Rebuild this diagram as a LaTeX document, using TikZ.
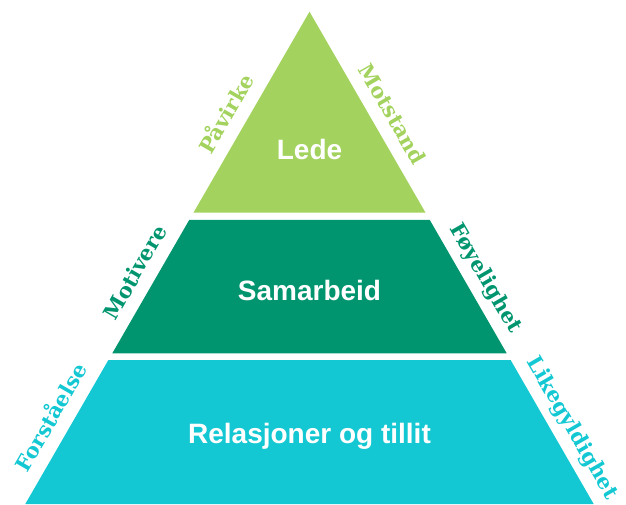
\documentclass[tikz,border=0pt]{standalone}
\usepackage{fontspec}
\setmainfont{Liberation Sans}
\newfontfamily\slabfont{DejaVu Serif Bold}
\usetikzlibrary{positioning, calc}
\definecolor{ledegreen}{RGB}{163,211,94}
\definecolor{samgreen}{RGB}{0,149,110}
\definecolor{relcyan}{RGB}{20,200,211}
\tikzstyle{band}=[draw=none]
\tikzstyle{title}=[text=white, anchor=base, font=\fontsize{28}{30}\selectfont\bfseries]
\tikzstyle{side}=[sloped, above=13pt, inner sep=0pt, text depth=0pt, font=\slabfont\fontsize{21}{23}\selectfont]

\begin{document}
\begin{tikzpicture}[x=1pt,y=1pt]
    \useasboundingbox (0,0) rectangle (626,504);
    % corners of the three layers
    \coordinate (apex) at (309.5,492.3);
    \coordinate (lbl) at (193.45,291.3);
    \coordinate (lbr) at (425.55,291.3);
    \coordinate (stl) at (189.2,284);
    \coordinate (str) at (429.8,284);
    \coordinate (sbl) at (112.3,150.7);
    \coordinate (sbr) at (506.7,150.7);
    \coordinate (rtl) at (108.4,144);
    \coordinate (rtr) at (510.6,144);
    \coordinate (rbl) at (25.3,0);
    \coordinate (rbr) at (593.7,0);

    \fill [band, ledegreen] (lbl) -- (apex) -- (lbr) -- cycle;
    \fill [band, samgreen] (sbl) -- (stl) -- (str) -- (sbr) -- cycle;
    \fill [band, relcyan] (rbl) -- (rtl) -- (rtr) -- (rbr) -- cycle;

    \node [title] (lede) at (309.5,344) {Lede};
    \node [title] (samarbeid) at (309.5,204) {Samarbeid};
    \node [title] (relasjoner) at (309.5,60.7) {Relasjoner og tillit};

    % words along the sides
    \path (lbl) -- node [side, pos=0.44, text=ledegreen] (pavirke) {Påvirke} (apex);
    \path (apex) -- node [side, pos=0.56, text=ledegreen] (motstand) {Motstand} (lbr);
    \path (sbl) -- node [side, pos=0.53, text=samgreen] (motivere) {Motivere} (stl);
    \path (str) -- node [side, pos=0.51, text=samgreen] (foyelighet) {Føyelighet} (sbr);
    \path (rbl) -- node [side, pos=0.53, text=relcyan] (forstaelse) {Forståelse} (rtl);
    \path (rtr) -- node [side, pos=0.54, text=relcyan] (likegyldighet) {Likegyldighet} (rbr);
\end{tikzpicture}
\end{document}
